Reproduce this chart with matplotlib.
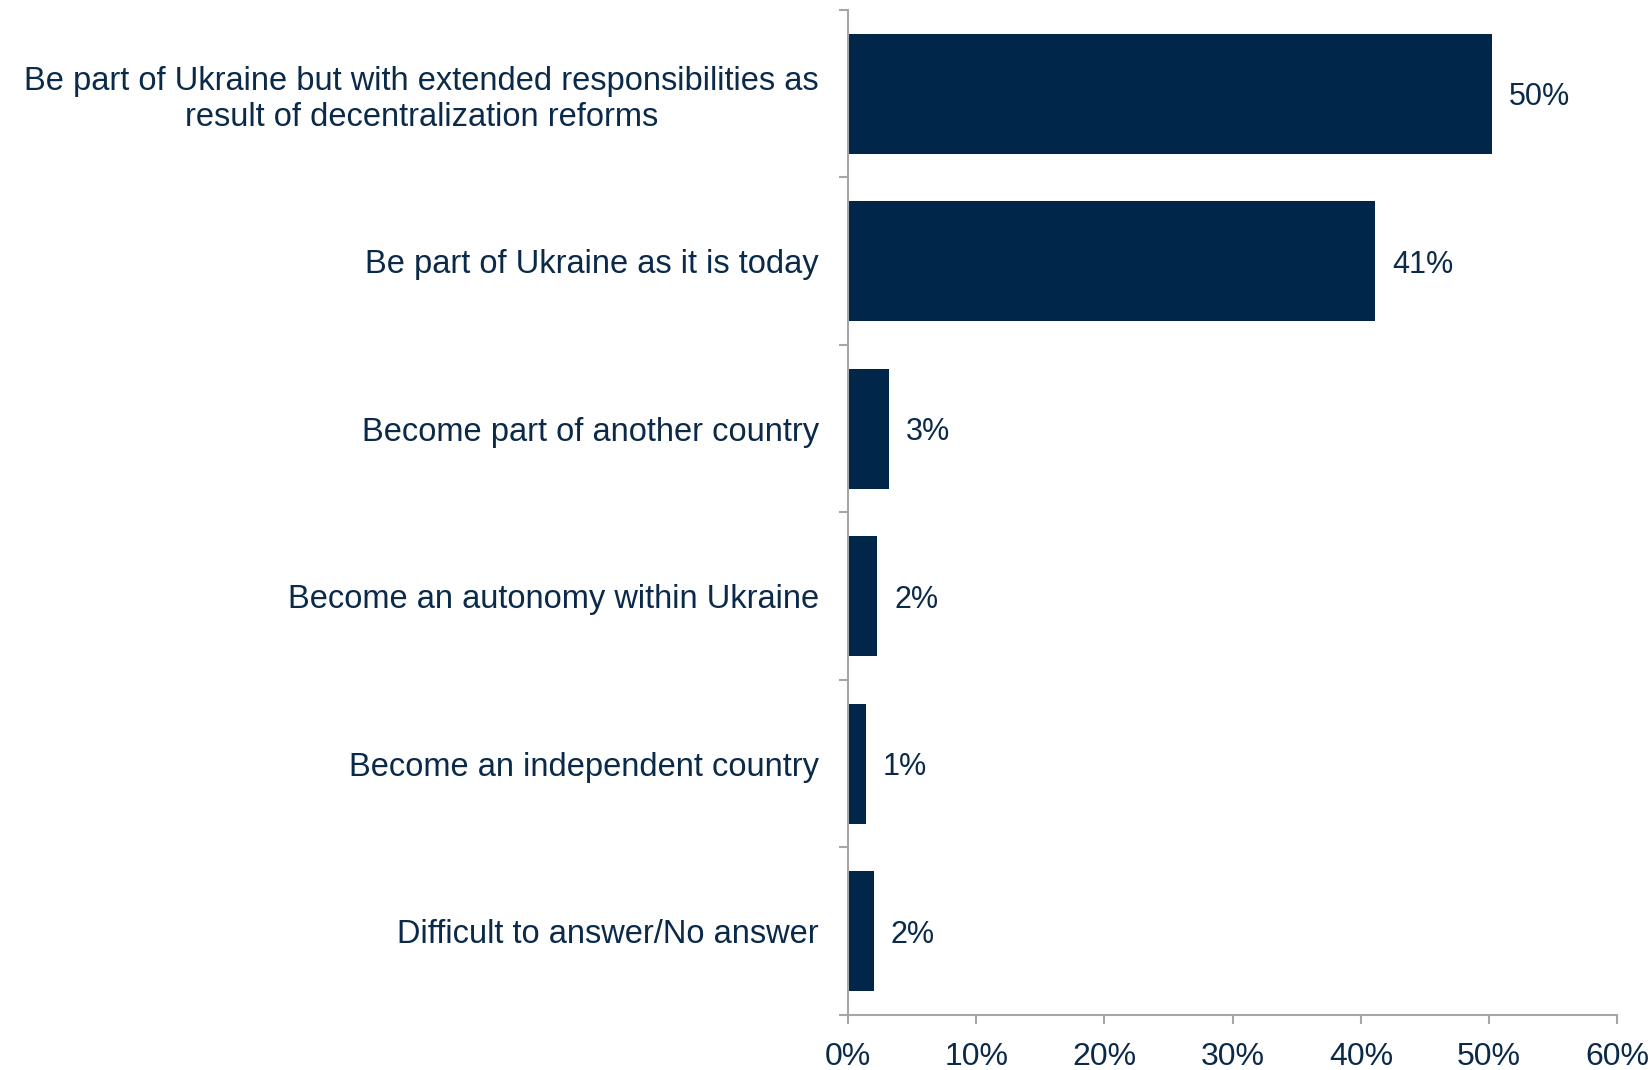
import matplotlib
matplotlib.use("Agg")
import matplotlib.pyplot as plt
from matplotlib.ticker import FuncFormatter, MultipleLocator

plt.rcParams['font.family'] = ['Liberation Sans', 'DejaVu Sans']

# data
categories = [
    "Be part of Ukraine but with extended responsibilities as\nresult of decentralization reforms",
    "Be part of Ukraine as it is today",
    "Become part of another country",
    "Become an autonomy within Ukraine",
    "Become an independent country",
    "Difficult to answer/No answer",
]
values = [50.2, 41.1, 3.2, 2.3, 1.4, 2.0]

navy = '#00264A'
text_col = '#0B2A4A'
axis_col = '#A6A6A6'

fig = plt.figure(figsize=(16.5, 10.7), dpi=100)
ax = fig.add_axes([0.5139, 0.0514, 0.9803 - 0.5139, 0.9907 - 0.0514])

pos = list(range(len(categories)))
bars = ax.barh(pos, values, height=0.715, color=navy)

ax.set_ylim(len(categories) - 0.5, -0.5)
ax.set_xlim(0, 60)

# category labels, with boundary ticks as minor ticks
ax.set_yticks(pos)
ax.set_yticklabels(categories, fontsize=23.5, color=text_col,
                   multialignment='center', linespacing=1.2)
ax.set_yticks([p - 0.5 for p in pos] + [len(categories) - 0.5], minor=True)
ax.tick_params(axis='y', which='major', length=0, pad=21)
ax.tick_params(axis='y', which='minor', length=6.5, width=1.5, color=axis_col)

ax.xaxis.set_major_locator(MultipleLocator(10))
ax.xaxis.set_major_formatter(FuncFormatter(lambda v, p: f"{v:.0f}%"))
ax.tick_params(axis='x', length=6.5, width=1.5, color=axis_col,
               labelsize=23, labelcolor=text_col, pad=13)

for side in ['top', 'right']:
    ax.spines[side].set_visible(False)
for side in ['left', 'bottom']:
    ax.spines[side].set_color(axis_col)
    ax.spines[side].set_linewidth(1.5)

value_labels = ax.bar_label(bars, labels=[f"{v:.0f}%" for v in values],
                            padding=12, fontsize=22, color=text_col)
for t in value_labels:
    t.set_va('center_baseline')

fig.savefig('out.png', dpi=100, facecolor='white')
